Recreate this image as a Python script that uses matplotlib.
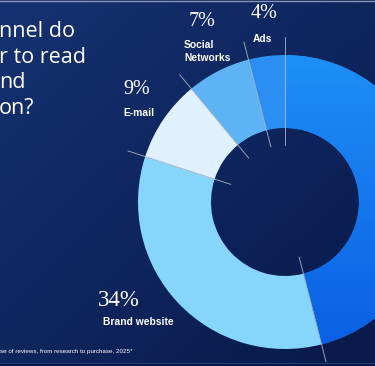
"""Donut chart: which channel consumers read about brands (cropped slide)."""

import matplotlib
import numpy as np

matplotlib.use("Agg")
import matplotlib.pyplot as plt
from matplotlib.colors import LinearSegmentedColormap

# Shares clockwise from 12 o'clock; the first segment's label is outside the crop
channels = ["", "Brand website", "E-mail", "Social\nNetworks", "Ads"]
shares = [46, 34, 9, 7, 4]
colors = ["#1482f3", "#86d5fb", "#dff0fe", "#5db3f4", "#2b8ef3"]
title_lines = ["nnel do", "r to read", "nd", "on?"]
footnote = "se of reviews, from research to purchase, 2025*"

W, H = 375, 366
CX, CY = 285, H - 202
R_OUT, R_IN = 147, 74

fig = plt.figure(figsize=(W / 100, H / 100), dpi=100)
ax = fig.add_axes([0, 0, 1, 1])

# navy slide background, lighter towards the top left
yy, xx = np.mgrid[0:1:200j, 0:1:200j]
t = ((1 - xx) * 0.5 + yy * 0.5)[..., None]
dark = np.array([8, 25, 74]) / 255
light = np.array([22, 50, 114]) / 255
ax.imshow(dark + t * (light - dark), extent=[0, W, 0, H], origin="lower",
          aspect="auto", zorder=0)
ax.axhspan(0, 3.5, color="#081744", zorder=0.5, lw=0)
ax.axhline(3.5, color="#263c78", lw=0.8, zorder=0.6)
ax.axhline(H - 0.5, color="#8a96b0", lw=1.0, zorder=0.6)

wedges, _ = ax.pie(shares, colors=colors, startangle=90, counterclock=False,
                   radius=R_OUT, center=(CX, CY),
                   wedgeprops=dict(width=R_OUT - R_IN, linewidth=0))

# vertical blue gradient on the large segment
big = wedges[0]
cmap = LinearSegmentedColormap.from_list("big", ["#0a5fe2", "#1f8ff8"])
im = ax.imshow(np.linspace(0, 1, 256).reshape(-1, 1),
               extent=[CX - R_OUT, CX + R_OUT, CY - R_OUT, CY + R_OUT],
               origin="lower", cmap=cmap, aspect="auto", zorder=big.get_zorder() + 0.1)
im.set_clip_path(big)

# thin separator lines along each segment boundary
starts = np.cumsum([0] + shares[:-1]) / sum(shares) * 360
r = np.array([57, 165])
for a in starts:
    ang = np.deg2rad(90 - a)
    ax.plot(CX + r * np.cos(ang), CY + r * np.sin(ang),
            color="#b8c0cc", lw=0.65, alpha=0.85, zorder=5)

# labels: (pct x, pct y, pct size, name x, name y, name align)
label_pos = [
    None,
    (119, 300, 16.5, 138, 322, "center"),
    (137, 90, 14.5, 139, 113, "center"),
    (202, 21, 14.5, 184, 51.5, "left"),
    (264, 14, 14.5, 262, 39, "center"),
]
for name, val, pos in zip(channels, shares, label_pos):
    if pos is None:
        continue
    px, py, ps, nx, ny, ha = pos
    ax.text(px, H - py, f"{val}%", family="Liberation Serif", size=ps,
            color="white", ha="center", va="center", zorder=6)
    ax.text(nx, H - ny, name, family="Liberation Sans", weight="bold", size=7.4,
            color="white", ha=ha, va="center", linespacing=1.45, zorder=6)

for i, line in enumerate(title_lines):
    ax.text(-1, H - (37 + 25.7 * i), line, family="Open Sans", size=15.5,
            color="white", ha="left", va="baseline", zorder=6)

ax.text(0, H - 351, footnote, family="Liberation Sans", size=4.5,
        color="white", ha="left", va="center", zorder=6)

ax.set_xlim(0, W)
ax.set_ylim(0, H)
ax.set_aspect("auto")
ax.axis("off")
fig.savefig("out.png", dpi=100)
plt.close(fig)
